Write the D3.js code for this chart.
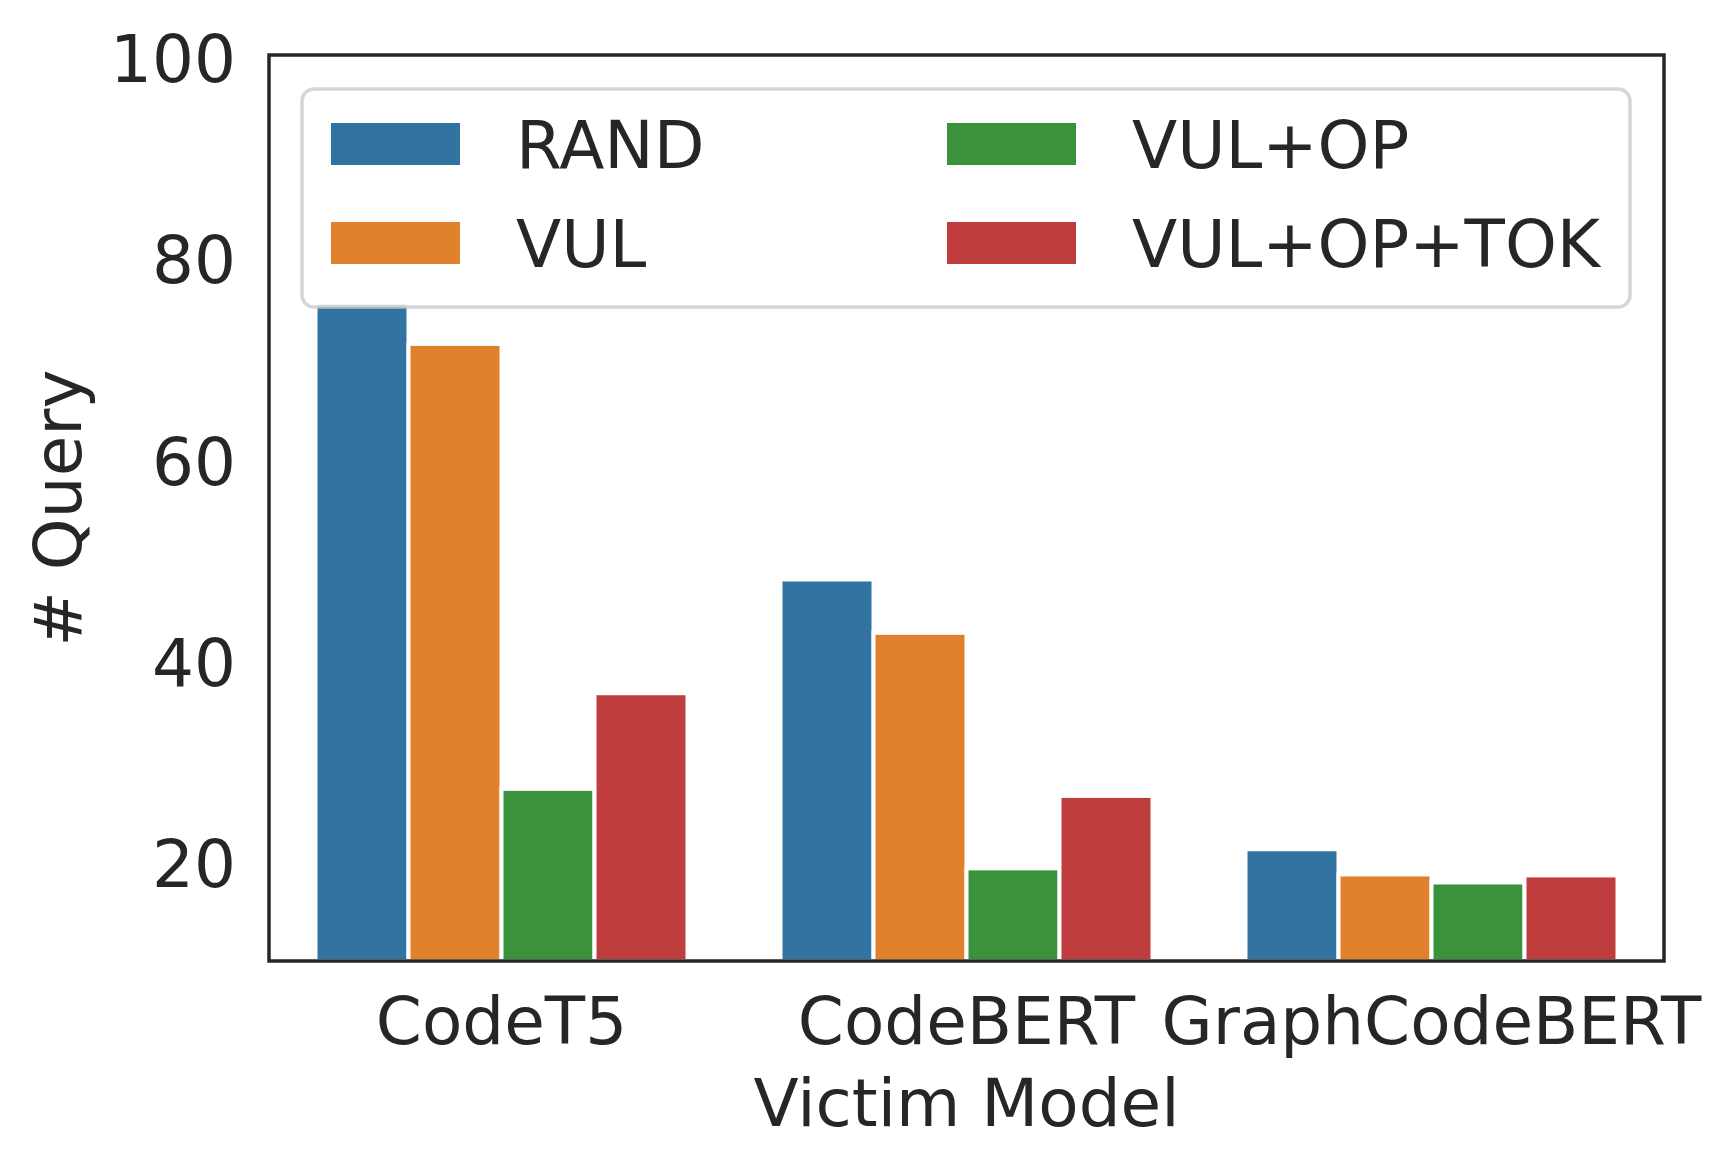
<!DOCTYPE html>
<html>
<head>
<meta charset="utf-8">
<script src="https://cdn.jsdelivr.net/npm/d3@7"></script>
<style>
  html, body { margin: 0; padding: 0; background: #fff; }
  text { font-family: "DejaVu Sans", sans-serif; fill: #262626; }
</style>
</head>
<body>
<div class="chart"></div>
<script>
const models = ["CodeT5", "CodeBERT", "GraphCodeBERT"];
const methods = ["RAND", "VUL", "VUL+OP", "VUL+OP+TOK"];
const colors = ["#3274a1", "#e1812c", "#3a923a", "#c03d3e"];
// # query per model, one array per method
const randValues = [75.4, 47.9, 21.1];
const vulValues = [71.3, 42.6, 18.6];
const vulOpValues = [27.1, 19.2, 17.8];
const vulOpTokValues = [36.6, 26.4, 18.5];
const yTicks = [20, 40, 60, 80, 100];
const yDomain = [10, 100];

(() => {
  const seriesValues = [randValues, vulValues, vulOpValues, vulOpTokValues];
  const width = 1733;
  const height = 1169;
  const margin = { top: 55, right: 69, bottom: 208, left: 269 };
  const fontSize = 66;

  const svg = d3
    .select(".chart")
    .append("svg")
    .attr("width", width)
    .attr("height", height)
    .style("background", "white");

  const x = d3
    .scaleBand()
    .domain(models)
    .range([margin.left, width - margin.right])
    .paddingInner(0.2)
    .paddingOuter(0.1);

  const xInner = d3
    .scaleBand()
    .domain(methods)
    .range([0, x.bandwidth()]);

  const y = d3
    .scaleLinear()
    .domain(yDomain)
    .range([height - margin.bottom, margin.top]);

  const color = d3.scaleOrdinal().domain(methods).range(colors);

  const rows = [];
  methods.forEach((m, i) => {
    models.forEach((model, j) => {
      rows.push({ method: m, model: model, value: seriesValues[i][j] });
    });
  });

  // bars
  svg
    .append("g")
    .attr("class", "bars")
    .selectAll("rect")
    .data(rows)
    .enter()
    .append("rect")
    .attr("x", (d) => x(d.model) + xInner(d.method))
    .attr("y", (d) => y(d.value))
    .attr("width", xInner.bandwidth())
    .attr("height", (d) => y(yDomain[0]) - y(d.value))
    .style("fill", (d) => color(d.method))
    .style("stroke", "white")
    .style("stroke-width", 4);

  // y tick labels
  svg
    .append("g")
    .attr("class", "y-ticks")
    .selectAll("text")
    .data(yTicks)
    .enter()
    .append("text")
    .attr("x", margin.left - 33)
    .attr("y", (d) => y(d) + 27)
    .attr("text-anchor", "end")
    .style("font-size", fontSize + "px")
    .text((d) => d);

  // x tick labels
  svg
    .append("g")
    .attr("class", "x-ticks")
    .selectAll("text")
    .data(models)
    .enter()
    .append("text")
    .attr("x", (d) => x(d) + x.bandwidth() / 2)
    .attr("y", 1044)
    .attr("text-anchor", "middle")
    .style("font-size", fontSize + "px")
    .text((d) => d);

  // axis titles
  svg
    .append("text")
    .attr("x", (margin.left + width - margin.right) / 2)
    .attr("y", 1126)
    .attr("text-anchor", "middle")
    .style("font-size", fontSize + "px")
    .text("Victim Model");

  svg
    .append("text")
    .attr(
      "transform",
      `translate(81,${(margin.top + height - margin.bottom) / 2}) rotate(-90)`
    )
    .attr("text-anchor", "middle")
    .style("font-size", fontSize + "px")
    .text("# Query");

  // frame
  svg
    .append("rect")
    .attr("x", margin.left)
    .attr("y", margin.top)
    .attr("width", width - margin.left - margin.right)
    .attr("height", height - margin.top - margin.bottom)
    .style("fill", "none")
    .style("stroke", "#262626")
    .style("stroke-width", 3.5);

  // legend, two columns filled top to bottom
  const legend = svg.append("g").attr("class", "legend");
  legend
    .append("rect")
    .attr("x", 302)
    .attr("y", 89)
    .attr("width", 1328)
    .attr("height", 218)
    .attr("rx", 12)
    .style("fill", "white")
    .style("fill-opacity", 0.8)
    .style("stroke", "#cccccc")
    .style("stroke-opacity", 0.8)
    .style("stroke-width", 3.5);

  const items = legend
    .selectAll("g")
    .data(methods)
    .enter()
    .append("g")
    .attr(
      "transform",
      (d, i) => `translate(${331 + Math.floor(i / 2) * 616},${123 + (i % 2) * 99})`
    );

  items
    .append("rect")
    .attr("width", 129)
    .attr("height", 42)
    .style("fill", (d) => color(d));

  items
    .append("text")
    .attr("x", 185)
    .attr("y", 45)
    .style("font-size", fontSize + "px")
    .text((d) => d);
})();
</script>
</body>
</html>
